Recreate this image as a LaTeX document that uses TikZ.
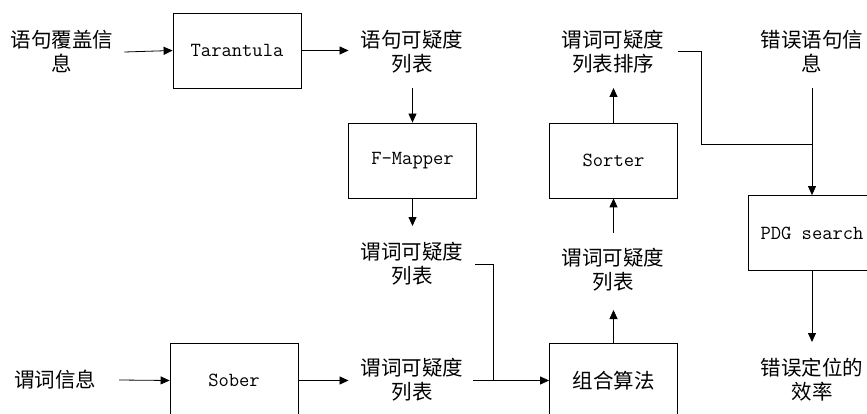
\documentclass[tikz,border=0pt]{standalone}
\usepackage{fontspec}
\newfontfamily\cjk{Noto Sans CJK SC}
\usetikzlibrary{arrows.meta}
\begin{document}
\begin{tikzpicture}[x=1pt,y=-1pt,
  box/.style={draw,line width=0.8pt,minimum width=128pt,minimum height=75pt,inner sep=0pt,font=\fontsize{20}{24}\selectfont\ttfamily},
  lbl/.style={align=center,inner sep=0pt,font=\fontsize{20.5}{24}\selectfont\cjk},
  arr/.style={-{Triangle[length=9pt,width=8pt]},line width=0.8pt},
  ln/.style={line width=0.8pt}]
\useasboundingbox (0,0) rectangle (867,414);
\clip (0,0) rectangle (867,414);
% boxes
\node[box] (tar) at (237,50.5) {Tarantula};
\node[box] (fm) at (412.5,160.5) {F-Mapper};
\node[box] (sober) at (234,380.5) {Sober};
\node[box,font=\fontsize{20.5}{24}\selectfont\cjk] (comb) at (613.5,380.5) {组合算法};
\node[box] (sorter) at (613.5,160.5) {Sorter};
\node[box] (pdg) at (812,233) {PDG search};
% labels
\node[lbl] (in1) at (62,52) {语句覆盖信\\息};
\node[lbl] (l1) at (412,52) {语句可疑度\\列表};
\node[lbl] (l2) at (412,264) {谓词可疑度\\列表};
\node[lbl] (in2) at (55,380) {谓词信息};
\node[lbl] (l3) at (412,380) {谓词可疑度\\列表};
\node[lbl] (l4) at (613,270) {谓词可疑度\\列表};
\node[lbl] (l5) at (613,52) {谓词可疑度\\列表排序};
\node[lbl] (l6) at (812,52) {错误语句信\\息};
\node[lbl] (l7) at (812,380) {错误定位的\\效率};
% connectors
\draw[arr] ([xshift=11pt]in1.east) -- (tar.west);
\draw[arr] (tar.east) -- ([xshift=-12pt]l1.west |- tar.east);
\draw[arr] (fm.north |- 0,88) -- (fm.north);
\draw[arr] (fm.south) -- (fm.south |- 0,226);
\draw[ln] ([xshift=12pt]l2.east) -- ++(18,0) coordinate (j1) -- (j1 |- comb.west);
\draw[arr] ([xshift=23pt]in2.east) -- (sober.west);
\draw[arr] (sober.east) -- ([xshift=-12pt]l3.west |- sober.east);
\draw[arr] ([xshift=10pt]l3.east |- comb.west) -- (comb.west);
\draw[arr] (comb.north) -- (comb.north |- 0,310);
\draw[arr] (comb.north |- 0,233) -- (sorter.south);
\draw[arr] (sorter.north) -- (sorter.north |- 0,88);
\draw[ln] (sorter.east |- 0,51) -- (701,51) -- (701,144) -- (pdg.north |- 0,144);
\draw[arr] (pdg.north |- 0,88) -- (pdg.north);
\draw[arr] (pdg.south) -- (pdg.south |- 0,342);
\end{tikzpicture}
\end{document}
